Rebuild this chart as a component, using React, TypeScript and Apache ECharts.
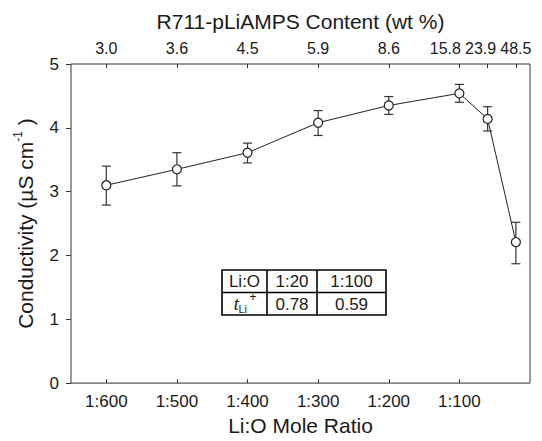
import React, { useEffect, useRef } from "react";
import * as echarts from "echarts";

const moleRatioLabels = ["1:600", "1:500", "1:400", "1:300", "1:200", "1:100"];
const moleRatioPos = [1, 2, 3, 4, 5, 6];
const contentLabels = ["3.0", "3.6", "4.5", "5.9", "8.6", "15.8", "23.9", "48.5"];
const contentPos = [1, 2, 3, 4, 5, 6, 6.4, 6.8];
const conductivity = [3.1, 3.35, 3.61, 4.08, 4.35, 4.54, 4.14, 2.21];
const errLow = [2.79, 3.09, 3.45, 3.88, 4.21, 4.4, 3.95, 1.87];
const errHigh = [3.4, 3.61, 3.76, 4.27, 4.49, 4.68, 4.33, 2.52];
const tableHeader = ["Li:O", "1:20", "1:100"];
const tableValues = ["0.78", "0.59"];

const FONT = "Liberation Sans, Arial, Helvetica, sans-serif";
const INK = "#1a1a1a";

export default function App() {
  const ref = useRef<HTMLDivElement>(null);
  useEffect(() => {
    if (!ref.current) return;
    const chart = echarts.init(ref.current, null, { renderer: "svg" });

    // horizontal nudges (px) for crowded top labels, styling only
    const topNudge: Record<string, number> = { "15.8": -14, "23.9": -7 };
    const topRich: Record<string, any> = { n: { fontSize: 16, color: INK, fontFamily: FONT } };
    Object.keys(topNudge).forEach((k, i) => {
      topRich["s" + i] = { fontSize: 16, color: INK, fontFamily: FONT, padding: [0, -2 * topNudge[k], 0, 0] };
    });

    const tx = 222, ty = 270, tw = 164, th = 45;
    const c1 = 267, c2 = 317, rm = 292.5;
    const tableGraphic: any[] = [
      { type: "rect", shape: { x: tx, y: ty, width: tw, height: th }, style: { fill: "#fff", stroke: "#000", lineWidth: 1.6 }, z: 10 },
      { type: "line", shape: { x1: c1, y1: ty, x2: c1, y2: ty + th }, style: { stroke: "#000", lineWidth: 1.6 }, z: 11 },
      { type: "line", shape: { x1: c2, y1: ty, x2: c2, y2: ty + th }, style: { stroke: "#000", lineWidth: 1.6 }, z: 11 },
      { type: "line", shape: { x1: tx, y1: rm, x2: tx + tw, y2: rm }, style: { stroke: "#000", lineWidth: 1.6 }, z: 11 },
    ];
    const colCenters = [(tx + c1) / 2, (c1 + c2) / 2, (c2 + tx + tw) / 2];
    const r1 = (ty + rm) / 2 + 0.5, r2 = (rm + ty + th) / 2 + 0.5;
    tableHeader.forEach((t, i) => {
      tableGraphic.push({ type: "text", x: colCenters[i], y: r1, z: 12, style: { text: t, fill: INK, font: `17px ${FONT}`, align: "center", verticalAlign: "middle" } });
    });
    tableValues.forEach((t, i) => {
      tableGraphic.push({ type: "text", x: colCenters[i + 1], y: r2, z: 12, style: { text: t, fill: INK, font: `17px ${FONT}`, align: "center", verticalAlign: "middle" } });
    });
    tableGraphic.push({ type: "text", x: colCenters[0] - 6, y: r2, z: 12, style: { text: "t", fill: INK, font: `italic 17px ${FONT}`, align: "right", verticalAlign: "middle" } });
    tableGraphic.push({ type: "text", x: colCenters[0] - 6, y: r2 + 5, z: 12, style: { text: "Li", fill: INK, font: `11px ${FONT}`, align: "left", verticalAlign: "middle" } });
    tableGraphic.push({ type: "text", x: colCenters[0] + 5, y: r2 - 7, z: 12, style: { text: "+", fill: INK, font: `12px ${FONT}`, align: "left", verticalAlign: "middle" } });

    const option: any = {
      animation: false,
      backgroundColor: "#fff",
      textStyle: { fontFamily: FONT },
      grid: { left: 71, right: 12, top: 64, bottom: 56, show: true, borderColor: "#333", borderWidth: 1, backgroundColor: "transparent" },
      xAxis: [
        {
          type: "value", position: "bottom", min: 0.5, max: 7,
          name: "Li:O Mole Ratio", nameLocation: "middle", nameGap: 29,
          nameTextStyle: { fontSize: 21, color: INK, fontFamily: FONT },
          axisLine: { show: false },
          axisTick: { show: true, inside: true, length: 4, customValues: moleRatioPos, lineStyle: { color: "#333" } },
          axisLabel: {
            customValues: moleRatioPos, fontSize: 17, color: INK, margin: 10, fontFamily: FONT,
            showMinLabel: true, showMaxLabel: true,
            formatter: (v: number) => { const i = moleRatioPos.indexOf(v); return i >= 0 ? moleRatioLabels[i] : ""; },
          },
          splitLine: { show: false },
        },
        {
          type: "value", position: "top", min: 0.5, max: 7,
          name: "R711-pLiAMPS Content (wt %)", nameLocation: "middle", nameGap: 32,
          nameTextStyle: { fontSize: 21, color: INK, fontFamily: FONT },
          axisLine: { show: false },
          axisTick: { show: true, inside: true, length: 4, customValues: contentPos, lineStyle: { color: "#333" } },
          axisLabel: {
            customValues: contentPos, fontSize: 16, color: INK, margin: 8, fontFamily: FONT,
            showMinLabel: true, showMaxLabel: true, hideOverlap: false,
            rich: topRich,
            formatter: (v: number) => {
              const i = contentPos.findIndex((p) => Math.abs(p - v) < 1e-6);
              if (i < 0) return "";
              const lab = contentLabels[i];
              const k = Object.keys(topNudge).indexOf(lab);
              return k >= 0 ? `{s${k}|${lab}}` : `{n|${lab}}`;
            },
          },
          splitLine: { show: false },
        },
      ],
      yAxis: {
        type: "value", min: 0, max: 5, interval: 1,
        name: "Conductivity (µS cm{sup|-1} )", nameLocation: "middle", nameGap: 33,
        nameTextStyle: { fontSize: 21, color: INK, fontFamily: FONT, lineHeight: 26, rich: { sup: { fontSize: 12, verticalAlign: "top", lineHeight: 15, color: INK, fontFamily: FONT } } },
        axisLine: { show: false },
        axisTick: { show: true, inside: false, length: 5, lineStyle: { color: "#333" } },
        axisLabel: { fontSize: 17, color: INK, margin: 12, fontFamily: FONT },
        splitLine: { show: false },
      },
      graphic: tableGraphic,
      series: [
        {
          type: "custom", xAxisIndex: 0, z: 2,
          data: contentPos.map((x, i) => [x, errLow[i], errHigh[i]]),
          encode: { x: 0, y: [1, 2] },
          renderItem: (params: any, api: any) => {
            const x = api.value(0);
            const lo = api.coord([x, api.value(1)]);
            const hi = api.coord([x, api.value(2)]);
            const w = 4.5;
            const st = { stroke: "#333", lineWidth: 1.2 };
            return {
              type: "group",
              children: [
                { type: "line", shape: { x1: lo[0], y1: lo[1], x2: hi[0], y2: hi[1] }, style: st },
                { type: "line", shape: { x1: lo[0] - w, y1: lo[1], x2: lo[0] + w, y2: lo[1] }, style: st },
                { type: "line", shape: { x1: hi[0] - w, y1: hi[1], x2: hi[0] + w, y2: hi[1] }, style: st },
              ],
            };
          },
        },
        {
          type: "line", xAxisIndex: 0, z: 3,
          data: contentPos.map((x, i) => [x, conductivity[i]]),
          symbol: "circle", symbolSize: 9,
          lineStyle: { color: "#222", width: 1 },
          itemStyle: { color: "#fff", borderColor: "#222", borderWidth: 1.2 },
        },
      ],
    };
    chart.setOption(option);
    return () => chart.dispose();
  }, []);
  return <div ref={ref} style={{ position: "fixed", left: 0, top: 0, width: 542, height: 441, background: "#fff" }} />;
}
